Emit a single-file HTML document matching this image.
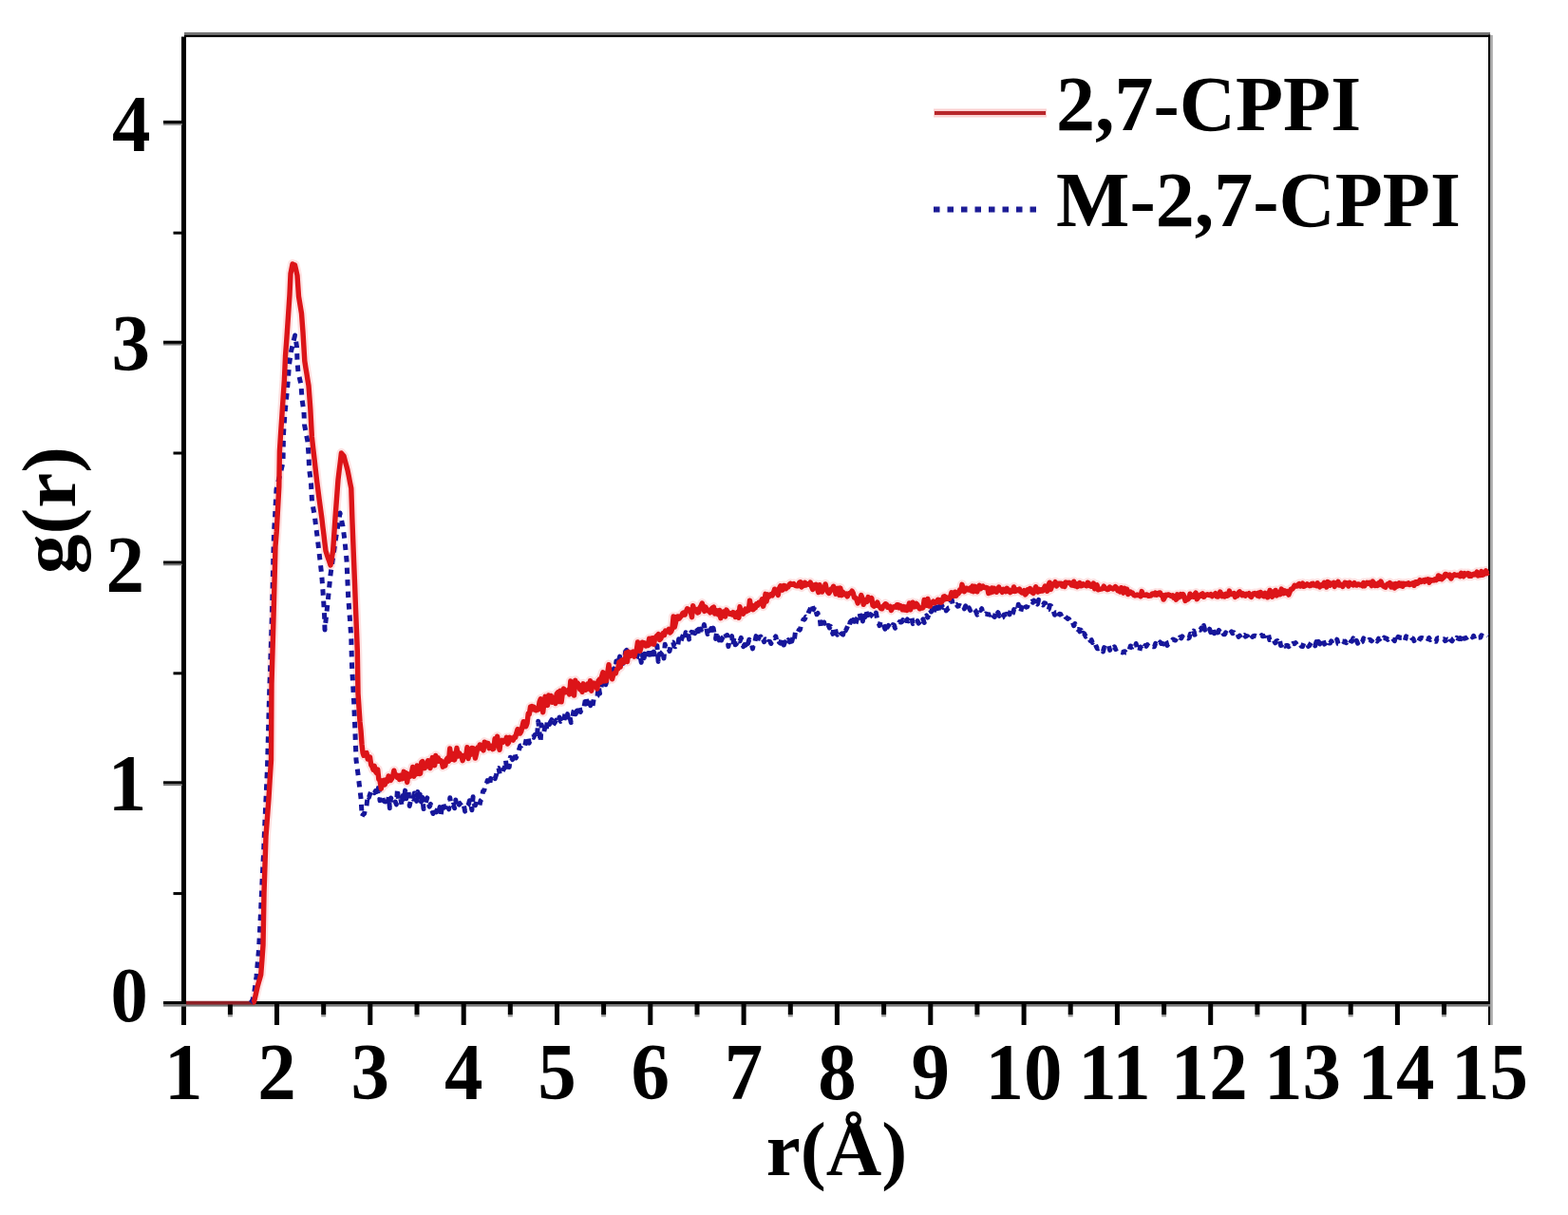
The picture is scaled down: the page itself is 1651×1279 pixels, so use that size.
<!DOCTYPE html>
<html><head><meta charset="utf-8"><style>
html,body{margin:0;padding:0;background:#fff;}
svg{display:block;}
text{font-family:"Liberation Serif","Times New Roman",serif;font-weight:bold;font-size:81px;fill:#000;}
</style></head><body>
<svg width="1651" height="1279" viewBox="0 0 1651 1279">
<rect width="1651" height="1279" fill="#fff"/>
<!-- frame -->
<rect x="194" y="34" width="1375" height="2.6" fill="#777"/>
<rect x="194" y="36.6" width="1375" height="2.5" fill="#000"/>
<rect x="1567" y="36.6" width="2.4" height="1042.4" fill="#000"/>
<rect x="1569.4" y="37" width="2.4" height="1042" fill="#aaa"/>
<rect x="191" y="38.6" width="5" height="1040.4" fill="#000"/>
<rect x="172" y="1054" width="1397" height="3" fill="#000"/>
<rect x="172" y="1057" width="1397" height="2.6" fill="#777"/>
<rect x="172" y="822.3" width="20" height="3.2" fill="#000"/><rect x="172" y="825.5" width="20" height="1.6" fill="#777"/><rect x="172" y="590.5" width="20" height="3.2" fill="#000"/><rect x="172" y="593.7" width="20" height="1.6" fill="#777"/><rect x="172" y="358.7" width="20" height="3.2" fill="#000"/><rect x="172" y="361.9" width="20" height="1.6" fill="#777"/><rect x="172" y="126.9" width="20" height="3.2" fill="#000"/><rect x="172" y="130.1" width="20" height="1.6" fill="#777"/><rect x="182.5" y="939.1" width="9" height="3" fill="#000"/><rect x="182.5" y="707.3" width="9" height="3" fill="#000"/><rect x="182.5" y="475.5" width="9" height="3" fill="#000"/><rect x="182.5" y="243.7" width="9" height="3" fill="#000"/><rect x="289.0" y="1055" width="5" height="24" fill="#000"/><rect x="387.3" y="1055" width="5" height="24" fill="#000"/><rect x="485.7" y="1055" width="5" height="24" fill="#000"/><rect x="584.0" y="1055" width="5" height="24" fill="#000"/><rect x="682.3" y="1055" width="5" height="24" fill="#000"/><rect x="780.6" y="1055" width="5" height="24" fill="#000"/><rect x="878.9" y="1055" width="5" height="24" fill="#000"/><rect x="977.3" y="1055" width="5" height="24" fill="#000"/><rect x="1075.6" y="1055" width="5" height="24" fill="#000"/><rect x="1173.9" y="1055" width="5" height="24" fill="#000"/><rect x="1272.2" y="1055" width="5" height="24" fill="#000"/><rect x="1370.5" y="1055" width="5" height="24" fill="#000"/><rect x="1468.9" y="1055" width="5" height="24" fill="#000"/><rect x="239.9" y="1055" width="5" height="13" fill="#000"/><rect x="239.9" y="1068" width="5" height="2.4" fill="#999"/><rect x="338.2" y="1055" width="5" height="13" fill="#000"/><rect x="338.2" y="1068" width="5" height="2.4" fill="#999"/><rect x="436.5" y="1055" width="5" height="13" fill="#000"/><rect x="436.5" y="1068" width="5" height="2.4" fill="#999"/><rect x="534.8" y="1055" width="5" height="13" fill="#000"/><rect x="534.8" y="1068" width="5" height="2.4" fill="#999"/><rect x="633.1" y="1055" width="5" height="13" fill="#000"/><rect x="633.1" y="1068" width="5" height="2.4" fill="#999"/><rect x="731.5" y="1055" width="5" height="13" fill="#000"/><rect x="731.5" y="1068" width="5" height="2.4" fill="#999"/><rect x="829.8" y="1055" width="5" height="13" fill="#000"/><rect x="829.8" y="1068" width="5" height="2.4" fill="#999"/><rect x="928.1" y="1055" width="5" height="13" fill="#000"/><rect x="928.1" y="1068" width="5" height="2.4" fill="#999"/><rect x="1026.4" y="1055" width="5" height="13" fill="#000"/><rect x="1026.4" y="1068" width="5" height="2.4" fill="#999"/><rect x="1124.7" y="1055" width="5" height="13" fill="#000"/><rect x="1124.7" y="1068" width="5" height="2.4" fill="#999"/><rect x="1223.1" y="1055" width="5" height="13" fill="#000"/><rect x="1223.1" y="1068" width="5" height="2.4" fill="#999"/><rect x="1321.4" y="1055" width="5" height="13" fill="#000"/><rect x="1321.4" y="1068" width="5" height="2.4" fill="#999"/><rect x="1419.7" y="1055" width="5" height="13" fill="#000"/><rect x="1419.7" y="1068" width="5" height="2.4" fill="#999"/><rect x="1518.0" y="1055" width="5" height="13" fill="#000"/><rect x="1518.0" y="1068" width="5" height="2.4" fill="#999"/>
<!-- curves -->
<line x1="196" y1="1055.6" x2="266" y2="1055.6" stroke="#8e2026" stroke-width="3.6"/>
<clipPath id="pa"><rect x="196" y="39" width="1371" height="1015"/></clipPath>
<path d="M265.5 1055.5L266.4 1055.2L267.4 1055.0L268.7 1049.3L270.0 1043.7L271.3 1038.0L272.4 1034.0L273.6 1030.0L274.7 1026.0L275.9 1010.5L277.0 995.0L278.0 940.0L279.0 910.0L280.0 880.0L281.5 860.0L283.0 840.0L284.2 820.0L285.5 800.0L286.0 720.0L287.0 685.0L288.0 650.0L289.0 612.5L290.0 575.0L291.2 560.0L292.5 536.2L293.8 512.5L294.4 475.0L295.6 456.2L296.9 437.5L298.1 418.8L299.4 400.0L300.5 375.0L301.8 357.5L303.0 340.0L304.0 325.0L305.0 310.0L306.0 288.0L307.0 283.0L308.0 278.0L309.2 278.5L310.5 279.0L311.8 284.5L313.0 290.0L314.5 312.0L316.0 321.0L317.5 330.0L319.0 350.0L320.8 380.0L321.8 386.5L322.9 393.0L323.9 399.5L325.0 406.0L325.9 418.0L326.8 430.0L328.4 460.0L329.7 471.9L331.1 483.8L332.4 495.6L333.8 507.5L335.0 516.9L336.2 526.2L337.5 535.6L338.8 545.0L339.8 553.8L340.9 562.5L341.9 571.2L343.0 580.0L344.2 583.8L345.5 587.5L346.8 591.2L348.0 595.0L349.3 587.5L350.6 580.0L351.8 562.5L353.0 545.0L354.5 525.0L356.0 505.0L357.1 495.7L358.3 486.3L359.4 477.0L360.7 478.5L362.0 480.0L363.3 485.0L364.7 490.0L366.0 495.0L367.3 501.3L368.5 507.7L369.8 514.0L371.0 550.0L372.6 591.0L373.6 615.5L374.5 640.0L375.4 662.5L376.3 685.0L377.0 730.0L378.0 745.0L379.0 760.0L380.0 769.0L381.0 783.2L382.0 792.3L383.0 795.3L384.5 792.9L386.0 792.6L387.2 799.0L388.3 796.6L389.5 796.8L390.7 805.1L391.8 806.7L393.0 810.2L394.2 806.3L395.3 812.0L396.5 813.7L397.7 810.0L398.8 820.2L400.0 821.3L401.3 830.2L402.7 822.1L404.0 821.4L405.3 825.9L406.7 820.8L408.0 822.6L409.1 817.0L410.3 818.7L411.4 821.4L412.6 819.5L413.7 816.7L414.9 811.2L416.0 816.8L417.1 815.6L418.3 818.5L419.4 816.7L420.6 820.5L421.7 816.2L422.9 817.5L424.0 819.7L425.2 812.3L426.4 814.7L427.5 813.9L428.7 823.5L429.9 814.8L431.1 817.4L432.3 816.9L433.5 813.0L434.6 807.5L435.8 817.2L437.0 811.4L438.1 815.0L439.2 806.0L440.4 808.6L441.5 814.5L442.6 814.3L443.8 802.5L444.9 801.5L446.0 805.8L447.2 808.6L448.3 806.0L449.5 806.2L450.7 800.7L451.8 806.7L453.0 808.5L454.2 801.9L455.3 797.6L456.5 800.0L457.7 805.7L458.8 795.4L460.0 801.6L461.3 797.9L462.5 801.1L463.8 800.5L465.1 801.4L466.3 807.2L467.6 802.7L468.8 806.0L470.0 799.8L471.2 798.1L472.5 801.2L473.7 788.0L474.9 798.8L476.1 799.3L477.3 793.4L478.6 799.9L479.8 795.4L481.0 787.5L482.2 796.1L483.4 792.8L484.6 794.3L485.9 795.4L487.1 800.7L488.3 795.7L489.5 794.9L490.7 796.1L491.9 786.8L493.1 798.5L494.4 788.7L495.6 794.3L496.8 787.5L498.0 787.6L499.2 789.4L500.4 798.1L501.7 792.8L502.9 787.1L504.1 787.9L505.3 783.9L506.5 787.9L507.8 785.2L509.0 789.9L510.2 781.1L511.4 784.7L512.6 782.3L513.8 782.4L515.0 787.7L516.3 785.0L517.5 786.5L518.7 788.6L519.9 788.0L521.1 777.6L522.3 784.8L523.6 775.3L524.8 781.7L526.0 789.3L527.2 780.5L528.4 779.4L529.6 781.2L530.9 780.2L532.1 779.9L533.3 776.4L534.5 783.0L535.6 781.5L536.8 776.3L538.0 777.7L539.1 778.3L540.3 779.1L541.5 775.8L542.7 776.3L543.8 771.7L545.0 767.7L546.2 768.0L547.5 772.1L548.8 769.9L550.0 764.6L551.2 759.7L552.5 761.2L553.8 764.7L555.0 761.4L556.2 751.3L557.3 751.8L558.5 744.2L559.7 743.5L560.8 746.8L562.0 744.1L563.2 747.2L564.4 747.8L565.6 745.5L566.8 746.8L568.1 738.8L569.3 735.8L570.5 741.7L571.7 749.8L572.9 739.9L574.1 733.3L575.3 738.2L576.5 742.4L577.7 731.9L579.0 738.7L580.2 732.4L581.4 739.3L582.6 736.8L583.8 734.2L585.0 740.5L586.2 730.4L587.4 728.8L588.7 738.5L589.9 727.1L591.1 738.9L592.3 729.5L593.5 725.0L594.8 728.6L596.0 728.7L597.2 728.5L598.4 726.4L599.6 731.0L600.8 717.0L602.1 723.5L603.3 724.2L604.5 732.1L605.7 716.3L606.9 722.6L608.1 719.1L609.4 720.7L610.6 725.7L611.8 724.4L613.0 728.3L614.2 719.8L615.4 723.0L616.7 726.3L617.9 724.9L619.1 719.7L620.3 725.2L621.5 716.7L622.7 727.3L624.0 720.4L625.2 719.0L626.4 720.3L627.6 722.3L628.8 725.1L630.0 716.9L631.2 715.2L632.5 718.3L633.7 711.8L634.9 707.8L636.1 717.0L637.3 711.5L638.5 716.7L639.8 707.6L641.0 699.6L642.2 711.2L643.4 710.0L644.6 714.8L645.9 709.9L647.1 708.4L648.3 708.7L649.5 704.3L650.7 704.1L651.9 696.9L653.2 702.1L654.4 695.2L655.6 694.7L656.8 697.2L658.1 696.1L659.3 687.1L660.5 696.5L661.7 686.1L662.9 690.6L664.1 690.3L665.4 686.9L666.6 686.0L667.8 691.2L669.0 687.2L670.2 684.8L671.5 675.9L672.7 679.1L673.9 685.3L675.1 681.0L676.3 676.2L677.5 676.6L678.8 677.1L680.0 679.9L681.2 678.1L682.4 679.5L683.6 672.3L684.8 677.9L686.0 671.9L687.3 671.8L688.5 678.2L689.7 671.6L690.9 670.1L692.1 669.0L693.3 667.7L694.6 673.6L695.8 672.2L697.0 669.1L698.2 666.5L699.4 668.7L700.6 664.1L701.9 665.1L703.1 664.1L704.3 662.3L705.5 666.0L706.7 664.7L707.9 661.6L709.1 649.0L710.3 660.0L711.6 654.6L712.8 649.1L714.0 648.9L715.2 651.1L716.4 649.6L717.6 648.2L718.8 645.5L720.0 644.8L721.2 647.1L722.4 643.7L723.6 640.7L724.8 641.3L726.0 642.6L727.2 643.8L728.5 649.7L729.7 637.6L730.9 643.2L732.1 641.0L733.3 642.0L734.5 645.0L735.7 644.3L736.9 639.5L738.1 637.9L739.3 635.0L740.5 638.8L741.7 643.4L742.9 639.0L744.2 642.5L745.4 642.9L746.6 642.3L747.8 644.9L749.0 641.6L750.2 639.8L751.5 639.1L752.7 646.1L753.9 642.5L755.1 643.1L756.3 647.0L757.6 642.4L758.8 650.7L760.0 647.7L761.2 644.1L762.4 643.8L763.6 649.0L764.8 642.1L766.0 643.8L767.2 645.7L768.4 646.3L769.5 645.7L770.7 646.9L771.9 644.6L773.1 645.3L774.3 649.5L775.5 647.6L776.7 644.4L777.9 650.3L779.0 638.8L780.2 644.5L781.4 645.8L782.5 646.2L783.7 643.2L784.9 641.2L786.0 643.6L787.2 640.8L788.3 642.3L789.5 632.1L790.7 641.1L791.8 637.2L793.0 641.7L794.2 640.4L795.4 639.7L796.5 635.7L797.7 637.4L798.9 634.4L800.1 635.3L801.2 633.6L802.4 630.8L803.6 638.2L804.8 633.9L806.0 625.3L807.1 633.0L808.3 625.8L809.5 628.3L810.7 626.4L811.9 625.6L813.2 626.8L814.4 624.3L815.6 620.2L816.8 623.3L818.1 623.4L819.3 626.4L820.5 619.4L821.7 616.8L822.9 618.7L824.0 621.1L825.2 616.5L826.4 616.6L827.6 619.7L828.8 617.7L829.9 618.0L831.1 615.3L832.3 614.3L833.5 615.3L834.6 615.4L835.8 614.5L837.0 616.2L838.2 616.6L839.3 616.8L840.5 616.7L841.7 613.2L842.8 612.7L844.0 618.0L845.1 616.0L846.3 616.5L847.5 613.2L848.6 615.9L849.8 614.9L851.0 614.4L852.1 615.2L853.3 613.1L854.5 617.5L855.7 620.5L856.9 615.9L858.2 618.2L859.4 615.4L860.6 620.2L861.8 623.5L863.0 615.7L864.2 618.6L865.5 623.1L866.7 620.6L867.9 620.2L869.1 614.9L870.3 620.0L871.5 623.0L872.8 624.5L874.0 622.8L875.2 619.9L876.4 619.9L877.6 617.2L878.8 619.4L880.0 625.2L881.3 622.3L882.5 619.4L883.7 626.4L884.9 619.1L886.1 626.7L887.3 623.0L888.6 624.9L889.8 626.0L891.0 625.2L892.2 627.9L893.4 625.1L894.6 624.5L895.9 623.9L897.1 622.2L898.3 624.3L899.5 629.0L900.7 629.1L901.9 631.1L903.2 634.9L904.4 630.5L905.6 630.5L906.8 626.6L908.0 629.8L909.2 636.3L910.5 632.8L911.7 631.7L912.9 633.3L914.1 628.6L915.3 631.7L916.6 631.1L917.8 629.7L919.0 637.2L920.2 638.2L921.4 635.7L922.6 637.1L923.8 634.0L925.0 637.7L926.3 638.6L927.5 640.6L928.7 640.8L929.9 638.4L931.1 637.2L932.3 635.7L933.5 636.4L934.7 639.4L935.9 639.5L937.2 638.4L938.4 642.4L939.6 640.2L940.8 638.9L942.0 638.6L943.2 639.2L944.4 636.8L945.6 636.7L946.7 639.8L947.9 637.7L949.1 638.4L950.3 641.8L951.5 638.6L952.7 642.0L953.9 639.0L955.0 642.5L956.2 640.1L957.4 635.0L958.6 641.8L959.8 638.4L961.0 634.2L962.2 638.8L963.5 638.7L964.7 635.3L965.9 636.6L967.1 639.1L968.3 640.8L969.5 640.1L970.8 640.1L972.0 639.7L973.2 631.5L974.4 635.2L975.6 637.1L976.9 630.5L978.1 638.0L979.3 638.1L980.5 634.3L981.7 634.7L982.9 633.1L984.0 634.7L985.2 634.2L986.4 633.8L987.6 631.2L988.8 633.8L989.9 631.8L991.1 634.2L992.3 632.4L993.5 628.1L994.6 627.7L995.8 630.6L997.0 629.0L998.2 630.4L999.5 630.4L1000.7 628.1L1001.9 623.8L1003.2 624.2L1004.4 627.4L1005.6 623.2L1006.8 627.2L1008.1 624.0L1009.3 624.6L1010.5 621.0L1011.8 622.0L1013.0 615.3L1014.2 621.0L1015.4 622.6L1016.7 619.3L1017.9 619.3L1019.1 620.9L1020.3 621.0L1021.6 619.0L1022.8 622.0L1024.0 617.1L1025.2 622.7L1026.4 617.3L1027.7 618.4L1028.9 622.8L1030.1 617.8L1031.3 616.3L1032.6 619.8L1033.8 617.6L1035.0 617.1L1036.2 618.3L1037.3 618.6L1038.5 618.5L1039.7 618.8L1040.8 624.5L1042.0 620.2L1043.2 623.6L1044.4 618.9L1045.6 622.9L1046.8 619.3L1048.1 621.0L1049.3 623.3L1050.5 621.0L1051.7 618.1L1052.9 621.0L1054.1 621.9L1055.3 623.4L1056.5 620.3L1057.7 621.8L1059.0 622.6L1060.2 619.2L1061.4 622.4L1062.6 621.0L1063.8 623.6L1065.0 622.5L1066.2 622.4L1067.5 617.9L1068.7 622.5L1069.9 622.0L1071.1 620.8L1072.3 621.7L1073.5 620.2L1074.8 623.0L1076.0 624.0L1077.2 623.9L1078.4 621.7L1079.6 626.0L1080.8 624.4L1082.0 620.8L1083.3 622.4L1084.5 619.5L1085.7 622.5L1086.9 623.7L1088.1 624.4L1089.3 620.8L1090.6 617.7L1091.8 620.5L1093.0 623.1L1094.2 620.4L1095.4 622.2L1096.7 620.9L1097.9 622.0L1099.1 619.8L1100.3 617.0L1101.5 618.7L1102.7 622.3L1103.9 616.1L1105.2 613.2L1106.4 620.4L1107.6 616.8L1108.8 614.7L1110.0 614.6L1111.2 612.7L1112.5 616.9L1113.7 615.7L1114.9 614.1L1116.1 614.4L1117.3 614.3L1118.5 617.0L1119.8 614.5L1121.0 617.4L1122.2 613.1L1123.4 613.4L1124.6 613.5L1125.8 613.3L1127.1 614.1L1128.3 616.0L1129.5 616.2L1130.7 612.2L1131.9 616.7L1133.2 614.7L1134.4 617.6L1135.6 614.6L1136.8 613.5L1138.0 616.7L1139.2 616.6L1140.5 614.8L1141.7 615.8L1142.9 616.2L1144.1 616.7L1145.3 613.2L1146.5 614.3L1147.8 616.8L1149.0 617.3L1150.2 616.1L1151.4 614.0L1152.6 619.8L1153.8 617.0L1155.1 615.9L1156.3 620.8L1157.5 620.2L1158.7 620.2L1159.9 620.0L1161.1 619.7L1162.3 617.1L1163.6 619.1L1164.8 619.9L1166.0 620.5L1167.2 620.4L1168.4 618.0L1169.7 618.9L1170.9 619.5L1172.1 620.0L1173.3 619.0L1174.5 617.5L1175.7 618.8L1176.9 621.8L1178.1 621.5L1179.3 622.8L1180.5 618.7L1181.7 621.5L1182.9 624.1L1184.2 619.3L1185.4 621.1L1186.6 620.3L1187.8 625.6L1189.0 623.8L1190.2 623.0L1191.4 624.5L1192.6 624.3L1193.8 626.3L1195.0 627.0L1196.2 626.7L1197.4 625.9L1198.6 626.7L1199.8 626.9L1201.0 627.7L1202.2 622.6L1203.4 626.5L1204.6 626.2L1205.8 626.5L1207.0 625.9L1208.2 626.3L1209.4 627.4L1210.6 627.1L1211.8 627.1L1213.0 625.2L1214.2 624.9L1215.4 625.8L1216.6 624.1L1217.8 626.3L1219.1 625.8L1220.3 624.2L1221.5 624.0L1222.7 626.6L1223.9 626.4L1225.1 631.1L1226.3 628.9L1227.5 626.2L1228.7 626.7L1230.0 625.9L1231.2 626.3L1232.4 627.1L1233.6 627.7L1234.8 626.8L1236.0 629.2L1237.2 629.0L1238.4 631.2L1239.6 625.8L1240.9 629.1L1242.1 627.4L1243.3 625.5L1244.5 627.7L1245.7 625.5L1246.9 628.1L1248.1 632.5L1249.4 630.1L1250.6 630.9L1251.8 629.8L1253.0 625.2L1254.2 628.3L1255.4 627.8L1256.7 628.2L1257.9 625.7L1259.1 624.1L1260.3 630.7L1261.5 629.1L1262.8 627.6L1264.0 626.2L1265.2 627.2L1266.4 624.8L1267.6 628.3L1268.9 626.9L1270.1 626.3L1271.3 625.8L1272.5 626.3L1273.7 626.5L1274.9 625.6L1276.2 627.7L1277.4 626.4L1278.6 625.8L1279.8 624.6L1281.0 627.9L1282.2 628.1L1283.5 627.1L1284.7 623.1L1285.9 625.4L1287.1 627.6L1288.3 626.1L1289.5 628.0L1290.7 625.3L1292.0 627.3L1293.2 626.8L1294.4 622.1L1295.6 625.4L1296.8 625.6L1298.0 625.0L1299.3 624.6L1300.5 628.5L1301.7 625.8L1302.9 627.2L1304.1 623.9L1305.3 622.8L1306.5 625.3L1307.8 626.6L1309.0 624.9L1310.2 626.8L1311.4 627.2L1312.6 625.2L1313.8 625.8L1315.1 624.7L1316.3 627.5L1317.5 628.5L1318.7 626.4L1319.9 624.8L1321.1 624.5L1322.4 625.1L1323.6 626.8L1324.8 624.2L1326.0 627.6L1327.2 623.4L1328.5 625.2L1329.7 627.2L1330.9 627.8L1332.1 624.4L1333.3 626.2L1334.6 628.8L1335.8 626.7L1337.0 621.5L1338.2 625.2L1339.4 628.3L1340.6 622.9L1341.9 626.0L1343.1 621.4L1344.3 626.9L1345.5 623.2L1346.8 625.6L1348.0 625.7L1349.3 620.1L1350.5 622.1L1351.8 624.7L1353.0 621.9L1354.3 624.1L1355.5 622.7L1356.8 626.1L1358.0 623.2L1359.3 620.1L1360.7 620.0L1362.0 618.3L1363.2 616.2L1364.4 616.8L1365.6 617.1L1366.8 615.6L1368.0 614.5L1369.2 617.0L1370.4 615.6L1371.6 614.1L1372.8 617.3L1374.0 616.6L1375.2 616.2L1376.4 614.8L1377.6 615.5L1378.8 616.7L1380.0 616.5L1381.2 614.5L1382.4 614.3L1383.6 616.1L1384.8 615.8L1386.0 616.7L1387.2 613.8L1388.4 616.7L1389.6 617.9L1390.8 616.7L1392.0 615.4L1393.2 616.5L1394.4 613.3L1395.6 614.5L1396.8 618.0L1398.0 612.6L1399.2 613.3L1400.4 616.2L1401.7 614.1L1402.9 614.2L1404.1 613.4L1405.3 617.4L1406.5 614.1L1407.7 614.6L1409.0 612.4L1410.2 616.1L1411.4 615.0L1412.6 615.7L1413.8 617.3L1415.0 615.2L1416.2 613.3L1417.5 613.6L1418.7 615.1L1419.9 616.9L1421.1 613.3L1422.3 614.7L1423.5 614.8L1424.8 615.9L1426.0 613.7L1427.2 615.4L1428.4 616.1L1429.6 614.9L1430.8 614.9L1432.1 615.9L1433.3 615.8L1434.5 616.8L1435.7 613.5L1436.9 616.7L1438.1 614.7L1439.4 613.4L1440.6 614.2L1441.8 613.3L1443.0 614.8L1444.2 616.6L1445.4 612.1L1446.6 613.6L1447.8 616.4L1449.0 615.0L1450.3 616.5L1451.5 613.7L1452.7 615.5L1453.9 612.0L1455.1 614.5L1456.3 616.8L1457.5 617.5L1458.7 618.1L1459.9 615.9L1461.1 614.8L1462.3 615.5L1463.5 613.5L1464.8 618.0L1466.0 617.9L1467.2 615.1L1468.4 618.9L1469.6 614.6L1470.8 617.3L1472.0 615.2L1473.2 613.8L1474.5 616.5L1475.7 614.2L1476.9 617.2L1478.1 614.2L1479.3 615.3L1480.5 614.4L1481.8 615.0L1483.0 613.8L1484.2 615.5L1485.4 615.1L1486.6 614.2L1487.8 613.7L1489.0 616.3L1490.3 612.6L1491.5 612.7L1492.7 614.2L1493.9 612.9L1495.1 610.6L1496.3 612.4L1497.6 611.9L1498.8 610.9L1500.0 612.3L1501.2 610.3L1502.4 611.2L1503.6 609.8L1504.8 613.1L1506.0 610.4L1507.2 611.2L1508.5 610.7L1509.7 611.0L1510.9 609.7L1512.1 610.6L1513.3 609.6L1514.5 605.9L1515.7 609.3L1516.9 607.0L1518.1 609.7L1519.3 608.5L1520.5 607.5L1521.8 604.4L1523.0 604.7L1524.2 605.7L1525.4 606.5L1526.6 605.0L1527.8 609.1L1529.0 606.9L1530.2 606.1L1531.4 604.8L1532.6 605.6L1533.8 605.6L1534.9 605.3L1536.1 605.7L1537.3 606.7L1538.5 603.3L1539.7 605.8L1540.9 606.8L1542.1 603.5L1543.2 605.0L1544.4 604.6L1545.6 603.6L1546.8 606.2L1548.0 604.4L1549.2 606.2L1550.4 605.2L1551.6 604.2L1552.8 604.9L1553.9 603.9L1555.1 602.2L1556.3 606.0L1557.5 604.6L1558.7 605.5L1559.9 601.6L1561.1 605.2L1562.2 604.8L1563.4 603.6L1564.6 600.9L1565.8 603.6L1567.0 602.6" fill="none" stroke="#fde2e2" stroke-width="10" stroke-linejoin="round" clip-path="url(#pa)"/>
<path d="M264.0 1055.5L265.0 1054.2L266.0 1053.0L267.0 1048.0L268.0 1043.0L269.0 1035.5L270.0 1028.0L271.2 1014.0L272.5 1000.0L273.8 975.0L275.0 950.0L276.2 925.0L277.5 900.0L278.5 876.0L279.5 852.0L280.5 830.0L281.5 808.0L282.5 771.0L283.5 734.0L284.5 707.0L285.5 676.0L286.5 645.0L287.5 602.5L288.5 560.0L289.5 545.0L291.0 515.0L292.2 510.3L293.3 505.7L294.5 501.0L295.7 496.3L296.8 491.7L298.0 487.0L298.5 457.0L300.0 435.0L301.0 425.0L302.0 415.0L303.5 398.0L304.5 384.0L305.5 377.0L306.5 370.0L307.9 364.3L309.2 358.7L310.6 353.0L311.6 359.0L312.5 365.0L313.0 380.0L314.0 392.0L315.5 398.5L317.0 405.0L318.0 420.0L319.0 427.0L320.0 434.0L320.6 447.5L321.7 453.0L322.7 458.5L323.8 464.0L325.0 479.0L325.6 494.0L326.6 501.5L327.5 509.0L328.5 528.0L329.9 535.5L331.3 543.0L332.5 553.0L333.8 563.0L335.0 573.0L336.0 581.5L337.0 590.0L337.9 598.0L338.8 606.0L339.8 619.5L340.7 633.0L341.6 648.0L342.0 663.0L343.5 649.0L345.0 635.0L346.5 620.0L348.0 605.0L349.2 596.2L350.5 587.5L351.8 578.8L353.0 570.0L354.2 562.5L355.5 555.0L356.8 547.5L358.0 540.0L359.5 547.0L361.0 554.0L362.0 561.5L363.0 569.0L364.0 579.5L365.0 590.0L366.6 627.0L367.7 642.0L368.8 657.0L369.8 672.0L370.5 700.0L371.6 720.0L372.7 740.0L373.9 770.0L375.0 800.0L376.0 807.5L377.0 815.0L378.5 827.5L380.0 840.0L381.2 859.4L382.4 857.3L383.6 856.6L384.8 850.6L386.0 848.3L387.2 837.4L388.4 839.3L389.6 836.0L390.8 832.7L392.0 831.6L393.1 833.4L394.3 834.7L395.4 832.7L396.6 838.4L397.7 835.0L398.9 824.8L400.0 842.8L401.2 837.6L402.3 837.4L403.5 842.6L404.7 843.6L405.8 844.0L407.0 841.6L408.1 845.8L409.3 838.9L410.4 850.8L411.6 839.9L412.8 844.2L413.9 845.1L415.1 845.9L416.2 844.0L417.4 846.9L418.5 830.5L419.6 843.5L420.8 842.6L421.9 840.9L423.1 848.2L424.2 837.6L425.4 840.5L426.6 832.1L427.7 840.8L428.9 832.6L430.0 832.2L431.2 848.4L432.5 842.2L433.7 839.8L434.9 841.0L436.2 835.0L437.4 837.0L438.6 843.4L439.8 833.6L441.1 843.7L442.3 836.1L443.5 844.0L444.8 839.5L446.0 851.6L447.2 849.6L448.5 844.4L449.8 839.8L451.0 845.3L452.2 849.2L453.5 846.4L454.8 852.6L456.0 856.5L457.2 852.0L458.4 850.2L459.6 854.9L460.8 850.2L461.9 854.6L463.1 849.6L464.3 857.2L465.5 849.2L466.7 845.8L467.9 850.2L469.1 847.0L470.3 845.5L471.5 848.5L472.7 851.8L473.8 839.7L475.0 848.1L476.2 847.4L477.4 847.2L478.6 850.8L479.8 842.0L481.0 849.7L482.2 845.9L483.5 847.1L484.7 845.5L485.9 844.8L487.1 843.8L488.3 847.4L489.6 854.1L490.8 849.6L492.0 848.6L493.2 847.2L494.4 842.7L495.6 846.9L496.9 852.7L498.1 838.8L499.3 847.2L500.5 847.7L501.6 843.6L502.7 844.4L503.8 845.7L504.9 847.8L506.0 842.9L507.2 841.4L508.5 833.0L509.8 832.0L511.0 826.4L512.1 825.8L513.2 821.6L514.4 825.1L515.5 827.1L516.6 819.5L517.8 820.0L518.9 820.4L520.0 816.9L521.2 819.6L522.5 815.8L523.8 809.1L525.0 808.6L526.2 814.7L527.5 813.4L528.8 814.3L530.0 809.8L531.2 808.7L532.5 800.5L533.8 811.5L535.0 801.1L536.2 807.6L537.3 797.2L538.5 797.7L539.7 799.5L540.8 795.6L542.0 793.0L543.2 798.0L544.3 795.6L545.5 793.0L546.7 788.5L547.8 785.1L549.0 785.0L550.2 783.3L551.3 783.8L552.5 785.5L553.7 780.2L554.8 776.2L556.0 775.4L557.2 782.3L558.4 777.0L559.6 776.4L560.8 775.8L561.9 776.3L563.1 773.6L564.3 777.0L565.5 774.7L566.7 759.2L567.9 769.3L569.1 780.9L570.2 763.1L571.4 767.9L572.6 770.9L573.8 765.8L575.0 770.4L576.2 759.3L577.4 758.8L578.5 762.5L579.7 759.7L580.9 757.7L582.1 763.7L583.2 762.0L584.4 760.3L585.6 758.1L586.8 760.2L587.9 758.0L589.1 755.0L590.3 759.4L591.5 758.3L592.6 756.5L593.8 758.4L595.0 750.6L596.2 753.8L597.5 751.7L598.8 758.6L600.0 754.7L601.2 760.6L602.5 757.8L603.8 749.4L605.0 746.0L606.2 751.7L607.5 748.0L608.8 748.0L610.0 743.8L611.2 749.5L612.3 746.9L613.5 746.9L614.7 745.6L615.8 739.8L617.0 733.5L618.2 740.5L619.3 738.1L620.5 737.6L621.7 742.7L622.8 737.5L624.0 743.0L625.2 735.9L626.5 736.0L627.8 733.4L629.0 732.7L630.2 722.6L631.5 730.1L632.8 724.3L634.0 718.1L635.2 722.3L636.5 719.1L637.8 720.7L639.0 716.4L640.2 712.8L641.5 702.9L642.8 713.6L644.0 710.7L645.2 706.5L646.4 703.9L647.7 705.3L648.9 695.9L650.1 700.4L651.3 696.4L652.6 691.1L653.8 694.8L655.0 693.3L656.2 698.4L657.4 695.4L658.6 685.9L659.8 684.5L661.0 691.5L662.1 690.9L663.3 688.2L664.5 686.2L665.7 690.9L666.9 687.3L668.1 688.9L669.3 694.6L670.5 692.2L671.7 688.6L672.9 687.2L674.0 690.6L675.2 697.4L676.4 689.3L677.6 697.3L678.8 688.2L680.0 690.2L681.2 693.1L682.4 687.5L683.6 690.1L684.8 684.7L686.0 691.4L687.1 692.8L688.3 686.1L689.5 688.6L690.7 686.1L691.9 679.7L693.1 696.4L694.3 688.6L695.5 688.9L696.7 687.0L697.9 685.9L699.0 693.1L700.2 678.3L701.4 683.1L702.6 682.3L703.8 682.7L705.0 685.4L706.2 679.5L707.4 676.4L708.6 676.0L709.9 680.3L711.1 680.8L712.3 679.3L713.5 680.8L714.7 672.7L715.9 676.7L717.1 674.6L718.4 670.7L719.6 667.7L720.8 672.0L722.0 665.8L723.2 666.8L724.4 664.4L725.6 673.1L726.8 667.0L728.1 665.3L729.3 666.0L730.5 665.8L731.7 666.6L732.9 660.6L734.1 662.2L735.3 667.4L736.5 669.0L737.7 662.1L739.0 665.5L740.2 663.1L741.4 657.5L742.6 663.5L743.8 660.9L745.0 667.5L746.2 664.6L747.4 665.6L748.7 661.6L749.9 667.2L751.1 661.1L752.3 668.4L753.5 672.4L754.8 664.9L756.0 671.8L757.2 673.9L758.4 669.5L759.6 674.0L760.8 671.3L762.1 670.0L763.3 665.9L764.5 669.2L765.7 668.5L766.9 680.4L768.1 674.2L769.4 673.0L770.6 669.7L771.8 679.1L773.0 670.6L774.2 678.8L775.4 677.8L776.7 674.9L777.9 672.9L779.1 674.9L780.3 671.3L781.5 677.4L782.7 680.6L784.0 678.5L785.2 679.1L786.4 674.2L787.6 677.3L788.8 673.2L790.0 674.7L791.2 677.9L792.5 682.9L793.7 675.7L794.9 675.4L796.1 669.6L797.3 675.4L798.5 672.1L799.8 670.5L801.0 670.1L802.2 674.5L803.4 672.8L804.6 675.7L805.9 672.9L807.1 673.4L808.3 677.3L809.5 675.3L810.7 675.4L811.9 677.5L813.1 674.2L814.4 671.0L815.6 671.7L816.8 669.8L818.0 675.3L819.2 673.4L820.5 676.1L821.7 677.2L822.9 672.8L824.1 675.8L825.3 679.0L826.5 675.9L827.8 678.4L829.0 675.5L830.2 673.6L831.4 675.8L832.6 669.7L833.8 675.1L835.1 670.2L836.3 673.7L837.5 665.1L838.7 667.1L840.0 666.1L841.2 663.1L842.4 663.0L843.6 657.9L844.8 654.9L846.0 652.0L847.2 652.1L848.4 649.4L849.5 650.1L850.7 646.4L851.9 643.5L853.1 641.2L854.3 636.1L855.5 638.0L856.6 641.6L857.8 638.5L858.9 642.8L860.0 646.8L861.1 645.5L862.1 650.2L863.2 651.0L864.3 660.9L865.4 658.9L866.5 659.1L867.6 655.0L868.8 659.2L869.9 657.8L871.0 659.9L872.2 658.3L873.4 661.0L874.5 659.4L875.7 662.9L876.9 667.4L878.1 660.2L879.3 661.1L880.5 666.5L881.6 668.1L882.8 665.9L884.0 669.1L885.2 667.6L886.5 666.9L887.7 668.0L889.0 661.8L890.2 664.1L891.4 661.9L892.7 658.6L893.9 660.6L895.1 655.0L896.4 653.5L897.6 658.9L898.8 652.4L900.1 658.3L901.3 655.7L902.6 650.7L903.8 648.8L905.0 645.2L906.1 650.4L907.3 646.3L908.4 654.0L909.6 645.8L910.7 649.9L911.9 642.8L913.1 648.4L914.2 652.3L915.4 647.8L916.5 646.6L917.7 647.3L918.8 649.1L920.0 650.2L921.2 648.4L922.4 645.0L923.6 651.7L924.8 654.4L926.0 658.6L927.2 654.4L928.4 655.4L929.5 654.7L930.7 658.8L931.9 662.2L933.1 656.6L934.3 660.2L935.5 658.5L936.7 660.3L937.9 660.8L939.0 661.6L940.2 657.6L941.4 658.1L942.5 661.3L943.7 658.5L944.9 658.1L946.0 656.6L947.2 654.5L948.3 655.1L949.5 654.6L950.7 652.6L951.8 654.2L953.0 651.0L954.2 653.5L955.4 651.9L956.5 653.9L957.7 651.0L958.9 651.7L960.1 650.7L961.2 656.6L962.4 655.4L963.6 655.1L964.8 656.5L966.0 653.6L967.1 656.1L968.3 655.1L969.5 652.4L970.7 654.6L971.9 651.8L973.2 655.5L974.4 649.1L975.6 647.9L976.8 650.1L978.1 646.4L979.3 641.9L980.5 644.0L981.7 641.3L982.9 646.4L984.2 639.7L985.4 639.9L986.6 635.0L987.8 639.2L989.0 644.4L990.2 639.5L991.5 637.1L992.7 639.4L993.9 637.7L995.1 637.8L996.3 642.9L997.6 641.4L998.8 640.0L1000.0 639.7L1001.2 634.0L1002.4 631.9L1003.5 637.9L1004.7 637.2L1005.9 636.5L1007.1 636.3L1008.3 638.2L1009.5 637.9L1010.6 637.4L1011.8 638.0L1013.0 636.6L1014.2 636.6L1015.4 640.9L1016.7 637.8L1017.9 643.1L1019.1 640.6L1020.3 639.8L1021.6 642.5L1022.8 639.5L1024.0 640.6L1025.2 640.7L1026.4 641.9L1027.7 643.8L1028.9 647.2L1030.1 644.3L1031.3 641.4L1032.6 642.4L1033.8 640.7L1035.0 646.5L1036.2 647.0L1037.5 646.0L1038.7 646.2L1039.9 646.7L1041.1 646.7L1042.4 647.3L1043.6 646.6L1044.8 644.2L1046.0 648.4L1047.3 649.4L1048.5 643.3L1049.7 646.4L1050.9 644.7L1052.2 648.3L1053.4 646.8L1054.6 650.5L1055.8 650.0L1057.1 646.9L1058.3 647.0L1059.5 646.3L1060.6 648.2L1061.8 644.6L1063.0 646.9L1064.1 642.6L1065.3 647.1L1066.5 645.5L1067.7 641.6L1068.8 641.9L1070.0 643.3L1071.2 643.1L1072.3 636.2L1073.5 641.9L1074.7 644.0L1075.8 639.6L1077.0 637.3L1078.2 641.9L1079.4 639.3L1080.5 638.7L1081.7 638.9L1082.9 634.7L1084.1 635.2L1085.3 633.7L1086.5 633.1L1087.6 634.2L1088.8 632.2L1090.0 636.9L1091.2 635.0L1092.4 636.0L1093.6 631.4L1094.7 634.6L1095.9 635.0L1097.1 636.0L1098.3 636.9L1099.5 634.8L1100.7 634.9L1101.8 638.9L1103.0 641.7L1104.2 641.7L1105.4 637.4L1106.7 637.9L1107.9 641.3L1109.2 643.3L1110.5 647.3L1111.7 644.9L1113.0 645.3L1114.3 649.3L1115.5 646.3L1116.8 646.5L1118.0 649.6L1119.3 648.7L1120.5 647.5L1121.8 649.5L1123.1 650.2L1124.3 651.5L1125.6 651.5L1126.8 654.9L1128.1 654.1L1129.3 654.6L1130.6 658.7L1131.9 656.5L1133.1 661.2L1134.4 662.5L1135.6 662.4L1136.9 664.9L1138.1 663.2L1139.4 668.1L1140.6 666.3L1141.9 667.3L1143.1 670.1L1144.3 668.9L1145.5 671.2L1146.8 672.4L1148.0 674.3L1149.2 673.7L1150.4 676.4L1151.7 674.6L1152.9 676.8L1154.1 680.2L1155.3 682.7L1156.5 682.8L1157.8 682.5L1159.0 683.0L1160.2 682.7L1161.4 686.0L1162.6 681.6L1163.8 682.4L1165.0 683.5L1166.2 682.6L1167.4 680.0L1168.6 684.4L1169.8 680.5L1171.0 680.2L1172.2 682.0L1173.4 680.8L1174.7 683.5L1175.9 682.8L1177.1 682.3L1178.3 683.1L1179.6 686.3L1180.8 686.6L1182.0 687.0L1183.2 685.9L1184.4 685.7L1185.5 687.0L1186.7 686.9L1187.9 684.0L1189.1 684.3L1190.3 680.0L1191.5 680.7L1192.6 680.9L1193.8 680.0L1195.0 682.2L1196.2 677.5L1197.3 682.2L1198.5 682.7L1199.7 685.5L1200.8 681.0L1202.0 682.8L1203.2 684.3L1204.5 683.1L1205.7 679.6L1206.9 680.3L1208.1 678.6L1209.4 680.5L1210.6 681.3L1211.8 682.2L1213.0 680.5L1214.3 680.8L1215.5 680.8L1216.7 677.3L1218.0 679.6L1219.2 679.8L1220.4 677.6L1221.6 676.0L1222.9 677.6L1224.1 677.4L1225.3 678.0L1226.5 673.5L1227.8 675.6L1229.0 679.4L1230.2 677.9L1231.4 675.2L1232.7 674.7L1233.9 674.4L1235.1 673.0L1236.3 673.6L1237.6 674.0L1238.8 671.8L1240.0 673.4L1241.2 673.7L1242.4 670.8L1243.7 671.9L1244.9 669.8L1246.1 672.2L1247.3 672.2L1248.6 670.7L1249.8 671.4L1251.0 671.9L1252.2 671.4L1253.3 667.3L1254.5 668.2L1255.7 665.6L1256.8 664.1L1258.0 668.2L1259.2 667.0L1260.3 667.1L1261.5 665.5L1262.7 662.7L1263.8 663.1L1265.0 661.1L1266.2 664.4L1267.5 658.5L1268.7 663.2L1269.9 661.8L1271.1 664.0L1272.3 665.0L1273.6 662.2L1274.8 665.6L1276.0 665.3L1277.2 661.2L1278.5 666.8L1279.7 662.1L1280.9 662.0L1282.2 665.9L1283.4 663.4L1284.6 665.1L1285.8 664.8L1287.0 663.4L1288.3 667.8L1289.5 667.8L1290.7 665.8L1291.9 668.4L1293.2 666.1L1294.4 666.8L1295.6 666.1L1296.8 664.8L1298.0 666.6L1299.2 665.8L1300.5 668.2L1301.7 668.1L1302.9 667.2L1304.1 670.3L1305.3 669.2L1306.5 671.7L1307.8 668.5L1309.0 668.7L1310.2 668.4L1311.4 670.2L1312.6 669.5L1313.8 669.9L1315.1 672.5L1316.3 671.0L1317.5 668.8L1318.7 670.4L1319.9 669.4L1321.1 669.3L1322.3 669.5L1323.6 669.9L1324.8 670.8L1326.0 671.4L1327.2 669.9L1328.4 668.6L1329.7 669.8L1330.9 669.5L1332.1 669.4L1333.3 667.9L1334.5 670.2L1335.6 668.3L1336.8 673.6L1338.0 673.4L1339.2 674.1L1340.3 672.2L1341.5 674.6L1342.7 676.8L1343.8 675.1L1345.0 674.5L1346.2 676.5L1347.4 673.9L1348.5 679.4L1349.7 679.3L1350.9 676.5L1352.1 679.6L1353.3 680.2L1354.5 679.4L1355.8 679.4L1357.0 680.7L1358.2 678.7L1359.4 680.4L1360.6 678.0L1361.8 677.2L1363.0 677.7L1364.2 676.6L1365.4 678.7L1366.7 677.1L1367.9 678.6L1369.1 678.5L1370.3 680.4L1371.5 680.6L1372.7 677.1L1373.9 677.6L1375.1 677.6L1376.3 676.9L1377.5 680.4L1378.8 679.6L1380.0 677.4L1381.2 675.6L1382.4 676.7L1383.6 677.6L1384.8 679.9L1386.0 675.6L1387.2 679.6L1388.4 675.3L1389.7 677.9L1390.9 675.6L1392.1 676.7L1393.3 673.8L1394.5 678.1L1395.7 677.2L1396.9 675.6L1398.1 674.0L1399.3 676.9L1400.6 676.9L1401.8 674.8L1403.0 677.6L1404.2 676.7L1405.4 675.2L1406.6 675.6L1407.8 673.2L1409.0 677.7L1410.2 678.0L1411.5 676.3L1412.7 674.7L1413.9 674.9L1415.1 676.0L1416.3 675.1L1417.5 676.7L1418.7 675.1L1419.9 677.5L1421.1 677.9L1422.4 675.3L1423.6 675.0L1424.8 671.9L1426.0 676.1L1427.2 676.5L1428.4 674.5L1429.6 677.2L1430.8 674.5L1432.0 673.6L1433.3 676.3L1434.5 675.6L1435.7 671.9L1436.9 673.6L1438.1 672.6L1439.3 673.9L1440.5 674.3L1441.8 673.2L1443.0 673.9L1444.2 674.8L1445.4 672.9L1446.6 671.4L1447.8 671.6L1449.0 674.0L1450.2 675.0L1451.5 672.2L1452.7 672.8L1453.9 671.0L1455.1 671.2L1456.3 673.1L1457.5 671.1L1458.7 672.0L1459.9 671.9L1461.2 673.4L1462.4 672.1L1463.6 671.7L1464.8 671.4L1466.0 671.1L1467.2 673.2L1468.4 674.7L1469.6 669.6L1470.8 673.2L1472.1 670.4L1473.3 670.9L1474.5 671.4L1475.7 671.2L1476.9 671.3L1478.1 671.0L1479.3 674.2L1480.6 669.8L1481.8 670.9L1483.0 670.7L1484.2 672.0L1485.4 670.0L1486.6 671.8L1487.8 672.1L1489.0 674.6L1490.2 672.9L1491.4 672.0L1492.7 672.3L1493.9 674.6L1495.1 672.1L1496.3 671.4L1497.5 671.5L1498.7 671.9L1499.9 673.7L1501.1 671.2L1502.3 671.8L1503.5 672.6L1504.7 671.5L1505.9 673.6L1507.2 672.3L1508.4 673.5L1509.6 673.6L1510.8 675.0L1512.0 675.3L1513.2 672.0L1514.4 671.5L1515.6 671.6L1516.8 673.6L1518.0 673.6L1519.2 672.9L1520.5 672.7L1521.7 674.7L1522.9 673.8L1524.1 672.9L1525.3 673.3L1526.5 670.5L1527.7 673.9L1528.9 674.9L1530.1 672.4L1531.4 671.5L1532.6 673.6L1533.8 671.3L1535.0 672.0L1536.2 672.6L1537.4 671.5L1538.6 672.5L1539.8 669.0L1540.9 668.2L1542.1 672.2L1543.3 671.8L1544.5 671.3L1545.7 670.4L1546.9 670.9L1548.0 671.3L1549.2 669.1L1550.4 670.8L1551.6 669.4L1552.8 672.9L1554.0 670.6L1555.2 670.4L1556.3 671.2L1557.5 671.1L1558.7 671.0L1559.9 668.8L1561.1 669.7L1562.3 670.5L1563.4 669.6L1564.6 669.4L1565.8 668.4L1567.0 669.2" fill="none" stroke="#16169a" stroke-width="5" stroke-dasharray="6.5 6" stroke-linejoin="round"/>
<path d="M265.5 1055.5L266.4 1055.2L267.4 1055.0L268.7 1049.3L270.0 1043.7L271.3 1038.0L272.4 1034.0L273.6 1030.0L274.7 1026.0L275.9 1010.5L277.0 995.0L278.0 940.0L279.0 910.0L280.0 880.0L281.5 860.0L283.0 840.0L284.2 820.0L285.5 800.0L286.0 720.0L287.0 685.0L288.0 650.0L289.0 612.5L290.0 575.0L291.2 560.0L292.5 536.2L293.8 512.5L294.4 475.0L295.6 456.2L296.9 437.5L298.1 418.8L299.4 400.0L300.5 375.0L301.8 357.5L303.0 340.0L304.0 325.0L305.0 310.0L306.0 288.0L307.0 283.0L308.0 278.0L309.2 278.5L310.5 279.0L311.8 284.5L313.0 290.0L314.5 312.0L316.0 321.0L317.5 330.0L319.0 350.0L320.8 380.0L321.8 386.5L322.9 393.0L323.9 399.5L325.0 406.0L325.9 418.0L326.8 430.0L328.4 460.0L329.7 471.9L331.1 483.8L332.4 495.6L333.8 507.5L335.0 516.9L336.2 526.2L337.5 535.6L338.8 545.0L339.8 553.8L340.9 562.5L341.9 571.2L343.0 580.0L344.2 583.8L345.5 587.5L346.8 591.2L348.0 595.0L349.3 587.5L350.6 580.0L351.8 562.5L353.0 545.0L354.5 525.0L356.0 505.0L357.1 495.7L358.3 486.3L359.4 477.0L360.7 478.5L362.0 480.0L363.3 485.0L364.7 490.0L366.0 495.0L367.3 501.3L368.5 507.7L369.8 514.0L371.0 550.0L372.6 591.0L373.6 615.5L374.5 640.0L375.4 662.5L376.3 685.0L377.0 730.0L378.0 745.0L379.0 760.0L380.0 769.0L381.0 783.2L382.0 792.3L383.0 795.3L384.5 792.9L386.0 792.6L387.2 799.0L388.3 796.6L389.5 796.8L390.7 805.1L391.8 806.7L393.0 810.2L394.2 806.3L395.3 812.0L396.5 813.7L397.7 810.0L398.8 820.2L400.0 821.3L401.3 830.2L402.7 822.1L404.0 821.4L405.3 825.9L406.7 820.8L408.0 822.6L409.1 817.0L410.3 818.7L411.4 821.4L412.6 819.5L413.7 816.7L414.9 811.2L416.0 816.8L417.1 815.6L418.3 818.5L419.4 816.7L420.6 820.5L421.7 816.2L422.9 817.5L424.0 819.7L425.2 812.3L426.4 814.7L427.5 813.9L428.7 823.5L429.9 814.8L431.1 817.4L432.3 816.9L433.5 813.0L434.6 807.5L435.8 817.2L437.0 811.4L438.1 815.0L439.2 806.0L440.4 808.6L441.5 814.5L442.6 814.3L443.8 802.5L444.9 801.5L446.0 805.8L447.2 808.6L448.3 806.0L449.5 806.2L450.7 800.7L451.8 806.7L453.0 808.5L454.2 801.9L455.3 797.6L456.5 800.0L457.7 805.7L458.8 795.4L460.0 801.6L461.3 797.9L462.5 801.1L463.8 800.5L465.1 801.4L466.3 807.2L467.6 802.7L468.8 806.0L470.0 799.8L471.2 798.1L472.5 801.2L473.7 788.0L474.9 798.8L476.1 799.3L477.3 793.4L478.6 799.9L479.8 795.4L481.0 787.5L482.2 796.1L483.4 792.8L484.6 794.3L485.9 795.4L487.1 800.7L488.3 795.7L489.5 794.9L490.7 796.1L491.9 786.8L493.1 798.5L494.4 788.7L495.6 794.3L496.8 787.5L498.0 787.6L499.2 789.4L500.4 798.1L501.7 792.8L502.9 787.1L504.1 787.9L505.3 783.9L506.5 787.9L507.8 785.2L509.0 789.9L510.2 781.1L511.4 784.7L512.6 782.3L513.8 782.4L515.0 787.7L516.3 785.0L517.5 786.5L518.7 788.6L519.9 788.0L521.1 777.6L522.3 784.8L523.6 775.3L524.8 781.7L526.0 789.3L527.2 780.5L528.4 779.4L529.6 781.2L530.9 780.2L532.1 779.9L533.3 776.4L534.5 783.0L535.6 781.5L536.8 776.3L538.0 777.7L539.1 778.3L540.3 779.1L541.5 775.8L542.7 776.3L543.8 771.7L545.0 767.7L546.2 768.0L547.5 772.1L548.8 769.9L550.0 764.6L551.2 759.7L552.5 761.2L553.8 764.7L555.0 761.4L556.2 751.3L557.3 751.8L558.5 744.2L559.7 743.5L560.8 746.8L562.0 744.1L563.2 747.2L564.4 747.8L565.6 745.5L566.8 746.8L568.1 738.8L569.3 735.8L570.5 741.7L571.7 749.8L572.9 739.9L574.1 733.3L575.3 738.2L576.5 742.4L577.7 731.9L579.0 738.7L580.2 732.4L581.4 739.3L582.6 736.8L583.8 734.2L585.0 740.5L586.2 730.4L587.4 728.8L588.7 738.5L589.9 727.1L591.1 738.9L592.3 729.5L593.5 725.0L594.8 728.6L596.0 728.7L597.2 728.5L598.4 726.4L599.6 731.0L600.8 717.0L602.1 723.5L603.3 724.2L604.5 732.1L605.7 716.3L606.9 722.6L608.1 719.1L609.4 720.7L610.6 725.7L611.8 724.4L613.0 728.3L614.2 719.8L615.4 723.0L616.7 726.3L617.9 724.9L619.1 719.7L620.3 725.2L621.5 716.7L622.7 727.3L624.0 720.4L625.2 719.0L626.4 720.3L627.6 722.3L628.8 725.1L630.0 716.9L631.2 715.2L632.5 718.3L633.7 711.8L634.9 707.8L636.1 717.0L637.3 711.5L638.5 716.7L639.8 707.6L641.0 699.6L642.2 711.2L643.4 710.0L644.6 714.8L645.9 709.9L647.1 708.4L648.3 708.7L649.5 704.3L650.7 704.1L651.9 696.9L653.2 702.1L654.4 695.2L655.6 694.7L656.8 697.2L658.1 696.1L659.3 687.1L660.5 696.5L661.7 686.1L662.9 690.6L664.1 690.3L665.4 686.9L666.6 686.0L667.8 691.2L669.0 687.2L670.2 684.8L671.5 675.9L672.7 679.1L673.9 685.3L675.1 681.0L676.3 676.2L677.5 676.6L678.8 677.1L680.0 679.9L681.2 678.1L682.4 679.5L683.6 672.3L684.8 677.9L686.0 671.9L687.3 671.8L688.5 678.2L689.7 671.6L690.9 670.1L692.1 669.0L693.3 667.7L694.6 673.6L695.8 672.2L697.0 669.1L698.2 666.5L699.4 668.7L700.6 664.1L701.9 665.1L703.1 664.1L704.3 662.3L705.5 666.0L706.7 664.7L707.9 661.6L709.1 649.0L710.3 660.0L711.6 654.6L712.8 649.1L714.0 648.9L715.2 651.1L716.4 649.6L717.6 648.2L718.8 645.5L720.0 644.8L721.2 647.1L722.4 643.7L723.6 640.7L724.8 641.3L726.0 642.6L727.2 643.8L728.5 649.7L729.7 637.6L730.9 643.2L732.1 641.0L733.3 642.0L734.5 645.0L735.7 644.3L736.9 639.5L738.1 637.9L739.3 635.0L740.5 638.8L741.7 643.4L742.9 639.0L744.2 642.5L745.4 642.9L746.6 642.3L747.8 644.9L749.0 641.6L750.2 639.8L751.5 639.1L752.7 646.1L753.9 642.5L755.1 643.1L756.3 647.0L757.6 642.4L758.8 650.7L760.0 647.7L761.2 644.1L762.4 643.8L763.6 649.0L764.8 642.1L766.0 643.8L767.2 645.7L768.4 646.3L769.5 645.7L770.7 646.9L771.9 644.6L773.1 645.3L774.3 649.5L775.5 647.6L776.7 644.4L777.9 650.3L779.0 638.8L780.2 644.5L781.4 645.8L782.5 646.2L783.7 643.2L784.9 641.2L786.0 643.6L787.2 640.8L788.3 642.3L789.5 632.1L790.7 641.1L791.8 637.2L793.0 641.7L794.2 640.4L795.4 639.7L796.5 635.7L797.7 637.4L798.9 634.4L800.1 635.3L801.2 633.6L802.4 630.8L803.6 638.2L804.8 633.9L806.0 625.3L807.1 633.0L808.3 625.8L809.5 628.3L810.7 626.4L811.9 625.6L813.2 626.8L814.4 624.3L815.6 620.2L816.8 623.3L818.1 623.4L819.3 626.4L820.5 619.4L821.7 616.8L822.9 618.7L824.0 621.1L825.2 616.5L826.4 616.6L827.6 619.7L828.8 617.7L829.9 618.0L831.1 615.3L832.3 614.3L833.5 615.3L834.6 615.4L835.8 614.5L837.0 616.2L838.2 616.6L839.3 616.8L840.5 616.7L841.7 613.2L842.8 612.7L844.0 618.0L845.1 616.0L846.3 616.5L847.5 613.2L848.6 615.9L849.8 614.9L851.0 614.4L852.1 615.2L853.3 613.1L854.5 617.5L855.7 620.5L856.9 615.9L858.2 618.2L859.4 615.4L860.6 620.2L861.8 623.5L863.0 615.7L864.2 618.6L865.5 623.1L866.7 620.6L867.9 620.2L869.1 614.9L870.3 620.0L871.5 623.0L872.8 624.5L874.0 622.8L875.2 619.9L876.4 619.9L877.6 617.2L878.8 619.4L880.0 625.2L881.3 622.3L882.5 619.4L883.7 626.4L884.9 619.1L886.1 626.7L887.3 623.0L888.6 624.9L889.8 626.0L891.0 625.2L892.2 627.9L893.4 625.1L894.6 624.5L895.9 623.9L897.1 622.2L898.3 624.3L899.5 629.0L900.7 629.1L901.9 631.1L903.2 634.9L904.4 630.5L905.6 630.5L906.8 626.6L908.0 629.8L909.2 636.3L910.5 632.8L911.7 631.7L912.9 633.3L914.1 628.6L915.3 631.7L916.6 631.1L917.8 629.7L919.0 637.2L920.2 638.2L921.4 635.7L922.6 637.1L923.8 634.0L925.0 637.7L926.3 638.6L927.5 640.6L928.7 640.8L929.9 638.4L931.1 637.2L932.3 635.7L933.5 636.4L934.7 639.4L935.9 639.5L937.2 638.4L938.4 642.4L939.6 640.2L940.8 638.9L942.0 638.6L943.2 639.2L944.4 636.8L945.6 636.7L946.7 639.8L947.9 637.7L949.1 638.4L950.3 641.8L951.5 638.6L952.7 642.0L953.9 639.0L955.0 642.5L956.2 640.1L957.4 635.0L958.6 641.8L959.8 638.4L961.0 634.2L962.2 638.8L963.5 638.7L964.7 635.3L965.9 636.6L967.1 639.1L968.3 640.8L969.5 640.1L970.8 640.1L972.0 639.7L973.2 631.5L974.4 635.2L975.6 637.1L976.9 630.5L978.1 638.0L979.3 638.1L980.5 634.3L981.7 634.7L982.9 633.1L984.0 634.7L985.2 634.2L986.4 633.8L987.6 631.2L988.8 633.8L989.9 631.8L991.1 634.2L992.3 632.4L993.5 628.1L994.6 627.7L995.8 630.6L997.0 629.0L998.2 630.4L999.5 630.4L1000.7 628.1L1001.9 623.8L1003.2 624.2L1004.4 627.4L1005.6 623.2L1006.8 627.2L1008.1 624.0L1009.3 624.6L1010.5 621.0L1011.8 622.0L1013.0 615.3L1014.2 621.0L1015.4 622.6L1016.7 619.3L1017.9 619.3L1019.1 620.9L1020.3 621.0L1021.6 619.0L1022.8 622.0L1024.0 617.1L1025.2 622.7L1026.4 617.3L1027.7 618.4L1028.9 622.8L1030.1 617.8L1031.3 616.3L1032.6 619.8L1033.8 617.6L1035.0 617.1L1036.2 618.3L1037.3 618.6L1038.5 618.5L1039.7 618.8L1040.8 624.5L1042.0 620.2L1043.2 623.6L1044.4 618.9L1045.6 622.9L1046.8 619.3L1048.1 621.0L1049.3 623.3L1050.5 621.0L1051.7 618.1L1052.9 621.0L1054.1 621.9L1055.3 623.4L1056.5 620.3L1057.7 621.8L1059.0 622.6L1060.2 619.2L1061.4 622.4L1062.6 621.0L1063.8 623.6L1065.0 622.5L1066.2 622.4L1067.5 617.9L1068.7 622.5L1069.9 622.0L1071.1 620.8L1072.3 621.7L1073.5 620.2L1074.8 623.0L1076.0 624.0L1077.2 623.9L1078.4 621.7L1079.6 626.0L1080.8 624.4L1082.0 620.8L1083.3 622.4L1084.5 619.5L1085.7 622.5L1086.9 623.7L1088.1 624.4L1089.3 620.8L1090.6 617.7L1091.8 620.5L1093.0 623.1L1094.2 620.4L1095.4 622.2L1096.7 620.9L1097.9 622.0L1099.1 619.8L1100.3 617.0L1101.5 618.7L1102.7 622.3L1103.9 616.1L1105.2 613.2L1106.4 620.4L1107.6 616.8L1108.8 614.7L1110.0 614.6L1111.2 612.7L1112.5 616.9L1113.7 615.7L1114.9 614.1L1116.1 614.4L1117.3 614.3L1118.5 617.0L1119.8 614.5L1121.0 617.4L1122.2 613.1L1123.4 613.4L1124.6 613.5L1125.8 613.3L1127.1 614.1L1128.3 616.0L1129.5 616.2L1130.7 612.2L1131.9 616.7L1133.2 614.7L1134.4 617.6L1135.6 614.6L1136.8 613.5L1138.0 616.7L1139.2 616.6L1140.5 614.8L1141.7 615.8L1142.9 616.2L1144.1 616.7L1145.3 613.2L1146.5 614.3L1147.8 616.8L1149.0 617.3L1150.2 616.1L1151.4 614.0L1152.6 619.8L1153.8 617.0L1155.1 615.9L1156.3 620.8L1157.5 620.2L1158.7 620.2L1159.9 620.0L1161.1 619.7L1162.3 617.1L1163.6 619.1L1164.8 619.9L1166.0 620.5L1167.2 620.4L1168.4 618.0L1169.7 618.9L1170.9 619.5L1172.1 620.0L1173.3 619.0L1174.5 617.5L1175.7 618.8L1176.9 621.8L1178.1 621.5L1179.3 622.8L1180.5 618.7L1181.7 621.5L1182.9 624.1L1184.2 619.3L1185.4 621.1L1186.6 620.3L1187.8 625.6L1189.0 623.8L1190.2 623.0L1191.4 624.5L1192.6 624.3L1193.8 626.3L1195.0 627.0L1196.2 626.7L1197.4 625.9L1198.6 626.7L1199.8 626.9L1201.0 627.7L1202.2 622.6L1203.4 626.5L1204.6 626.2L1205.8 626.5L1207.0 625.9L1208.2 626.3L1209.4 627.4L1210.6 627.1L1211.8 627.1L1213.0 625.2L1214.2 624.9L1215.4 625.8L1216.6 624.1L1217.8 626.3L1219.1 625.8L1220.3 624.2L1221.5 624.0L1222.7 626.6L1223.9 626.4L1225.1 631.1L1226.3 628.9L1227.5 626.2L1228.7 626.7L1230.0 625.9L1231.2 626.3L1232.4 627.1L1233.6 627.7L1234.8 626.8L1236.0 629.2L1237.2 629.0L1238.4 631.2L1239.6 625.8L1240.9 629.1L1242.1 627.4L1243.3 625.5L1244.5 627.7L1245.7 625.5L1246.9 628.1L1248.1 632.5L1249.4 630.1L1250.6 630.9L1251.8 629.8L1253.0 625.2L1254.2 628.3L1255.4 627.8L1256.7 628.2L1257.9 625.7L1259.1 624.1L1260.3 630.7L1261.5 629.1L1262.8 627.6L1264.0 626.2L1265.2 627.2L1266.4 624.8L1267.6 628.3L1268.9 626.9L1270.1 626.3L1271.3 625.8L1272.5 626.3L1273.7 626.5L1274.9 625.6L1276.2 627.7L1277.4 626.4L1278.6 625.8L1279.8 624.6L1281.0 627.9L1282.2 628.1L1283.5 627.1L1284.7 623.1L1285.9 625.4L1287.1 627.6L1288.3 626.1L1289.5 628.0L1290.7 625.3L1292.0 627.3L1293.2 626.8L1294.4 622.1L1295.6 625.4L1296.8 625.6L1298.0 625.0L1299.3 624.6L1300.5 628.5L1301.7 625.8L1302.9 627.2L1304.1 623.9L1305.3 622.8L1306.5 625.3L1307.8 626.6L1309.0 624.9L1310.2 626.8L1311.4 627.2L1312.6 625.2L1313.8 625.8L1315.1 624.7L1316.3 627.5L1317.5 628.5L1318.7 626.4L1319.9 624.8L1321.1 624.5L1322.4 625.1L1323.6 626.8L1324.8 624.2L1326.0 627.6L1327.2 623.4L1328.5 625.2L1329.7 627.2L1330.9 627.8L1332.1 624.4L1333.3 626.2L1334.6 628.8L1335.8 626.7L1337.0 621.5L1338.2 625.2L1339.4 628.3L1340.6 622.9L1341.9 626.0L1343.1 621.4L1344.3 626.9L1345.5 623.2L1346.8 625.6L1348.0 625.7L1349.3 620.1L1350.5 622.1L1351.8 624.7L1353.0 621.9L1354.3 624.1L1355.5 622.7L1356.8 626.1L1358.0 623.2L1359.3 620.1L1360.7 620.0L1362.0 618.3L1363.2 616.2L1364.4 616.8L1365.6 617.1L1366.8 615.6L1368.0 614.5L1369.2 617.0L1370.4 615.6L1371.6 614.1L1372.8 617.3L1374.0 616.6L1375.2 616.2L1376.4 614.8L1377.6 615.5L1378.8 616.7L1380.0 616.5L1381.2 614.5L1382.4 614.3L1383.6 616.1L1384.8 615.8L1386.0 616.7L1387.2 613.8L1388.4 616.7L1389.6 617.9L1390.8 616.7L1392.0 615.4L1393.2 616.5L1394.4 613.3L1395.6 614.5L1396.8 618.0L1398.0 612.6L1399.2 613.3L1400.4 616.2L1401.7 614.1L1402.9 614.2L1404.1 613.4L1405.3 617.4L1406.5 614.1L1407.7 614.6L1409.0 612.4L1410.2 616.1L1411.4 615.0L1412.6 615.7L1413.8 617.3L1415.0 615.2L1416.2 613.3L1417.5 613.6L1418.7 615.1L1419.9 616.9L1421.1 613.3L1422.3 614.7L1423.5 614.8L1424.8 615.9L1426.0 613.7L1427.2 615.4L1428.4 616.1L1429.6 614.9L1430.8 614.9L1432.1 615.9L1433.3 615.8L1434.5 616.8L1435.7 613.5L1436.9 616.7L1438.1 614.7L1439.4 613.4L1440.6 614.2L1441.8 613.3L1443.0 614.8L1444.2 616.6L1445.4 612.1L1446.6 613.6L1447.8 616.4L1449.0 615.0L1450.3 616.5L1451.5 613.7L1452.7 615.5L1453.9 612.0L1455.1 614.5L1456.3 616.8L1457.5 617.5L1458.7 618.1L1459.9 615.9L1461.1 614.8L1462.3 615.5L1463.5 613.5L1464.8 618.0L1466.0 617.9L1467.2 615.1L1468.4 618.9L1469.6 614.6L1470.8 617.3L1472.0 615.2L1473.2 613.8L1474.5 616.5L1475.7 614.2L1476.9 617.2L1478.1 614.2L1479.3 615.3L1480.5 614.4L1481.8 615.0L1483.0 613.8L1484.2 615.5L1485.4 615.1L1486.6 614.2L1487.8 613.7L1489.0 616.3L1490.3 612.6L1491.5 612.7L1492.7 614.2L1493.9 612.9L1495.1 610.6L1496.3 612.4L1497.6 611.9L1498.8 610.9L1500.0 612.3L1501.2 610.3L1502.4 611.2L1503.6 609.8L1504.8 613.1L1506.0 610.4L1507.2 611.2L1508.5 610.7L1509.7 611.0L1510.9 609.7L1512.1 610.6L1513.3 609.6L1514.5 605.9L1515.7 609.3L1516.9 607.0L1518.1 609.7L1519.3 608.5L1520.5 607.5L1521.8 604.4L1523.0 604.7L1524.2 605.7L1525.4 606.5L1526.6 605.0L1527.8 609.1L1529.0 606.9L1530.2 606.1L1531.4 604.8L1532.6 605.6L1533.8 605.6L1534.9 605.3L1536.1 605.7L1537.3 606.7L1538.5 603.3L1539.7 605.8L1540.9 606.8L1542.1 603.5L1543.2 605.0L1544.4 604.6L1545.6 603.6L1546.8 606.2L1548.0 604.4L1549.2 606.2L1550.4 605.2L1551.6 604.2L1552.8 604.9L1553.9 603.9L1555.1 602.2L1556.3 606.0L1557.5 604.6L1558.7 605.5L1559.9 601.6L1561.1 605.2L1562.2 604.8L1563.4 603.6L1564.6 600.9L1565.8 603.6L1567.0 602.6" fill="none" stroke="#dc1418" stroke-width="5.4" stroke-linejoin="round"/>
<!-- labels -->
<text transform="translate(154.3 852.7) scale(1 1.05)" text-anchor="end">1</text><text transform="translate(152.0 622.9) scale(1 1.05)" text-anchor="end">2</text><text transform="translate(157.9 389.6) scale(1 1.05)" text-anchor="end">3</text><text transform="translate(158.4 158.5) scale(1 1.05)" text-anchor="end">4</text><text transform="translate(136 1075.4) scale(1 1.045)" text-anchor="middle" style="font-size:78.5px">0</text>
<text transform="translate(193.2 1157) scale(1 1.055)" text-anchor="middle">1</text><text transform="translate(291.5 1157) scale(1 1.055)" text-anchor="middle">2</text><text transform="translate(389.8 1157) scale(1 1.055)" text-anchor="middle">3</text><text transform="translate(488.2 1157) scale(1 1.055)" text-anchor="middle">4</text><text transform="translate(586.5 1157) scale(1 1.055)" text-anchor="middle">5</text><text transform="translate(684.8 1157) scale(1 1.055)" text-anchor="middle">6</text><text transform="translate(783.1 1157) scale(1 1.055)" text-anchor="middle">7</text><text transform="translate(881.4 1157) scale(1 1.055)" text-anchor="middle">8</text><text transform="translate(979.8 1157) scale(1 1.055)" text-anchor="middle">9</text><text transform="translate(1078.1 1157) scale(1 1.055)" text-anchor="middle">10</text><text transform="translate(1173.4 1157) scale(1 1.055)" text-anchor="middle">11</text><text transform="translate(1273.2 1157) scale(1 1.055)" text-anchor="middle">12</text><text transform="translate(1371.5 1157) scale(1 1.055)" text-anchor="middle">13</text><text transform="translate(1469.9 1157) scale(1 1.055)" text-anchor="middle">14</text><text transform="translate(1568.5 1157) scale(1 1.055)" text-anchor="middle">15</text>
<text x="881" y="1237" text-anchor="middle">r(Å)</text>
<text transform="translate(79 537) rotate(-90) scale(1.03 1)" text-anchor="middle">g(r)</text>
<!-- legend -->
<line x1="983" y1="119" x2="1102" y2="119" stroke="#fbd2d2" stroke-width="9"/><line x1="984" y1="119" x2="1101" y2="119" stroke="#b8262a" stroke-width="4"/>
<line x1="983" y1="220.5" x2="1095" y2="220.5" stroke="#1c1c96" stroke-width="6" stroke-dasharray="6.5 8"/>
<text x="1112" y="136.5" style="font-size:82px">2,7-CPPI</text>
<text x="1112" y="237.5" style="font-size:82px">M-2,7-CPPI</text>
</svg>
</body></html>
